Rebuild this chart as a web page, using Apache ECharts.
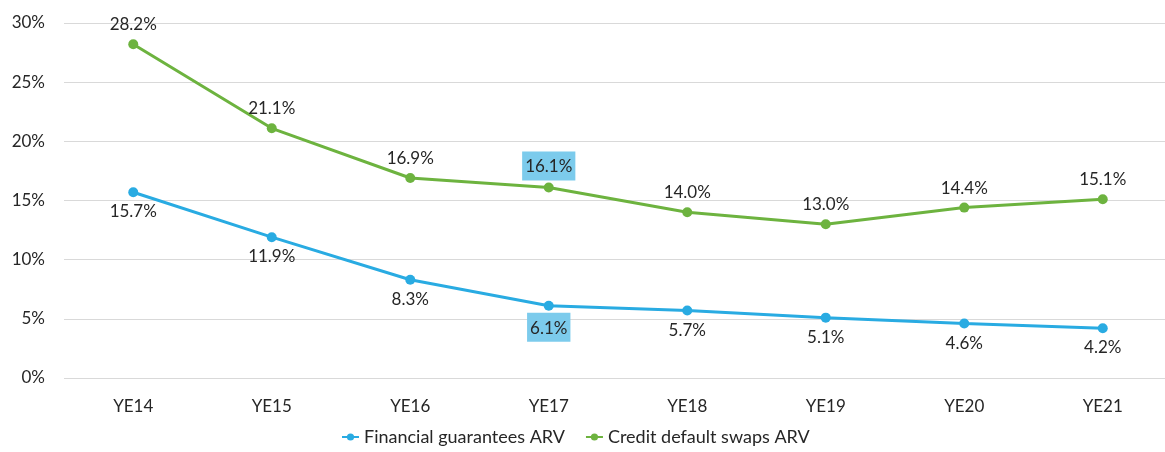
<!DOCTYPE html>
<html>
<head>
<meta charset="utf-8">
<script src="https://cdn.jsdelivr.net/npm/echarts@6/dist/echarts.min.js"></script>
<style>
  html, body { margin: 0; padding: 0; background: #fff; overflow: hidden; }
  /* plot area runs slightly past the right edge of the page */
  #chart { width: 1172px; height: 452px; }
</style>
</head>
<body>
<div id="chart"></div>
<script>
// Year-end categories
const categories = ['YE14', 'YE15', 'YE16', 'YE17', 'YE18', 'YE19', 'YE20', 'YE21'];
// ARV ratios in percent
const financialGuarantees = [15.7, 11.9, 8.3, 6.1, 5.7, 5.1, 4.6, 4.2];
const creditDefaultSwaps = [28.2, 21.1, 16.9, 16.1, 14.0, 13.0, 14.4, 15.1];
// Year with highlighted labels
const highlightIndex = 3;

const FONT = 'Lato, "Open Sans", sans-serif';
const TEXT = '#262626';
const BLUE = '#29abe2';
const GREEN = '#6db33f';
const HILITE = '#7ccbec';

function buildData(values) {
  return values.map((v, i) => {
    const item = { value: v };
    if (i === highlightIndex) {
      item.label = {
        backgroundColor: HILITE,
        padding: [7, 3, 5, 3],
        distance: 2
      };
    }
    return item;
  });
}

const labelStyle = (position) => ({
  show: true,
  position: position,
  distance: 6,
  color: TEXT,
  fontFamily: FONT,
  fontSize: 17,
  formatter: p => p.value.toFixed(1) + '%'
});

const chart = echarts.init(document.getElementById('chart'), null, { renderer: 'canvas' });
chart.setOption({
  animation: false,
  grid: { left: 64, right: 0, top: 23, bottom: 74 },
  legend: {
    left: 336,
    bottom: 1,
    itemGap: 20,
    itemWidth: 17,
    itemHeight: 9,
    textStyle: { fontFamily: FONT, fontSize: 18, color: TEXT },
    data: ['Financial guarantees ARV', 'Credit default swaps ARV']
  },
  xAxis: {
    type: 'category',
    data: categories,
    boundaryGap: true,
    axisLine: { show: false },
    axisTick: { show: false },
    axisLabel: { fontFamily: FONT, fontSize: 17, color: TEXT, margin: 20 }
  },
  yAxis: {
    type: 'value',
    min: 0,
    max: 30,
    interval: 5,
    axisLine: { show: false },
    axisTick: { show: false },
    axisLabel: { fontFamily: FONT, fontSize: 17, color: TEXT, margin: 19, formatter: '{value}%' },
    splitLine: { lineStyle: { color: '#d9d9d9', width: 1 } }
  },
  series: [
    {
      name: 'Financial guarantees ARV',
      type: 'line',
      data: buildData(financialGuarantees),
      color: BLUE,
      lineStyle: { width: 3, color: BLUE },
      symbol: 'circle',
      symbolSize: 10,
      itemStyle: { color: BLUE },
      label: labelStyle('bottom')
    },
    {
      name: 'Credit default swaps ARV',
      type: 'line',
      data: buildData(creditDefaultSwaps),
      color: GREEN,
      lineStyle: { width: 3, color: GREEN },
      symbol: 'circle',
      symbolSize: 10,
      itemStyle: { color: GREEN },
      label: labelStyle('top')
    }
  ]
});
</script>
</body>
</html>
